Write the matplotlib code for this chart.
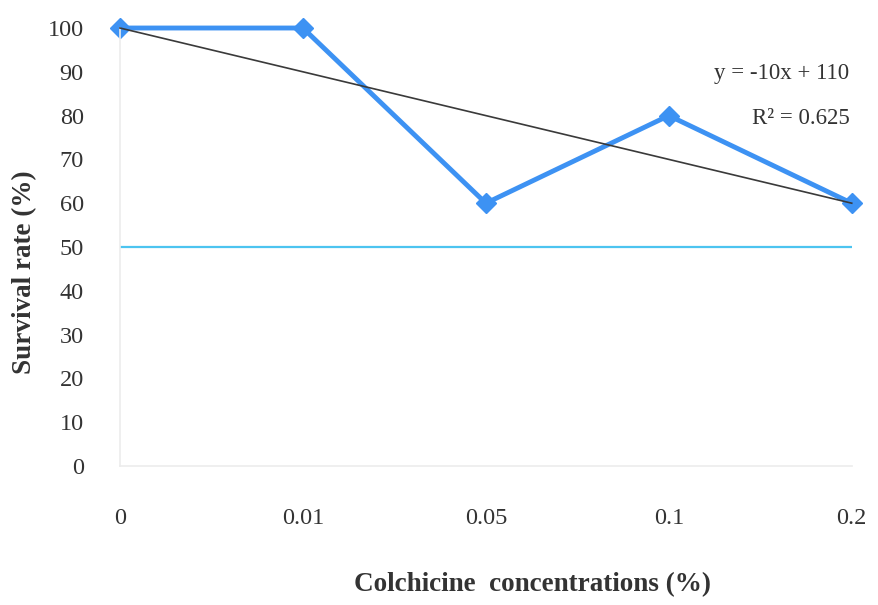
import matplotlib.pyplot as plt
import numpy as np

plt.rcParams['font.family'] = ['Liberation Serif', 'DejaVu Serif']

concentrations = ['0', '0.01', '0.05', '0.1', '0.2']
survival = [100, 100, 60, 80, 60]
trend_slope = -10
trend_intercept = 110
threshold = 50

pos = np.arange(1, len(concentrations) + 1)
trend = trend_slope * pos + trend_intercept

fig = plt.figure(figsize=(8.79, 6.05), dpi=100)
ax = fig.add_axes([0.1365, 0.2298, 0.8325, 0.7239])

ax.plot([pos[0], pos[-1]], [threshold, threshold], color='#4cc4f0', linewidth=1.6, zorder=1)
ax.plot(pos, survival, color='#3d92f3', linewidth=3.5, marker='D', markersize=10,
        clip_on=False, zorder=2)
ax.plot(pos, trend, color='#3a3a3a', linewidth=1.2, clip_on=False, zorder=3)

ax.set_xlim(1, 5)
ax.set_ylim(0, 100)
ax.set_yticks(np.arange(0, 101, 10))
ax.set_xticks(pos)
ax.set_xticklabels(concentrations)
ax.tick_params(axis='both', length=0, labelsize=17.5, colors='#333333')
ax.tick_params(axis='x', pad=30)
ax.tick_params(axis='y', pad=26)

for s in ['top', 'right']:
    ax.spines[s].set_visible(False)
for s in ['left', 'bottom']:
    ax.spines[s].set_color('#ececec')
    ax.spines[s].set_linewidth(1.2)

ax.set_ylabel('Survival rate (%)', fontsize=19.5, fontweight='bold', color='#333333')
ax.set_xlabel('Colchicine  concentrations (%)', fontsize=19.5, fontweight='bold', color='#333333')
ax.yaxis.set_label_coords(-0.13, 0.443)
ax.xaxis.set_label_coords(0.564, -0.272)
ax.xaxis.label.set_va('center')
ax.yaxis.label.set_va('center')

ax.text(0.997, 0.895, 'y = -10x + 110', transform=ax.transAxes, ha='right', va='center',
        fontsize=16.5, color='#333333')
ax.text(0.997, 0.793, 'R² = 0.625', transform=ax.transAxes, ha='right', va='center',
        fontsize=16.5, color='#333333')

fig.savefig('out.png', dpi=100)
